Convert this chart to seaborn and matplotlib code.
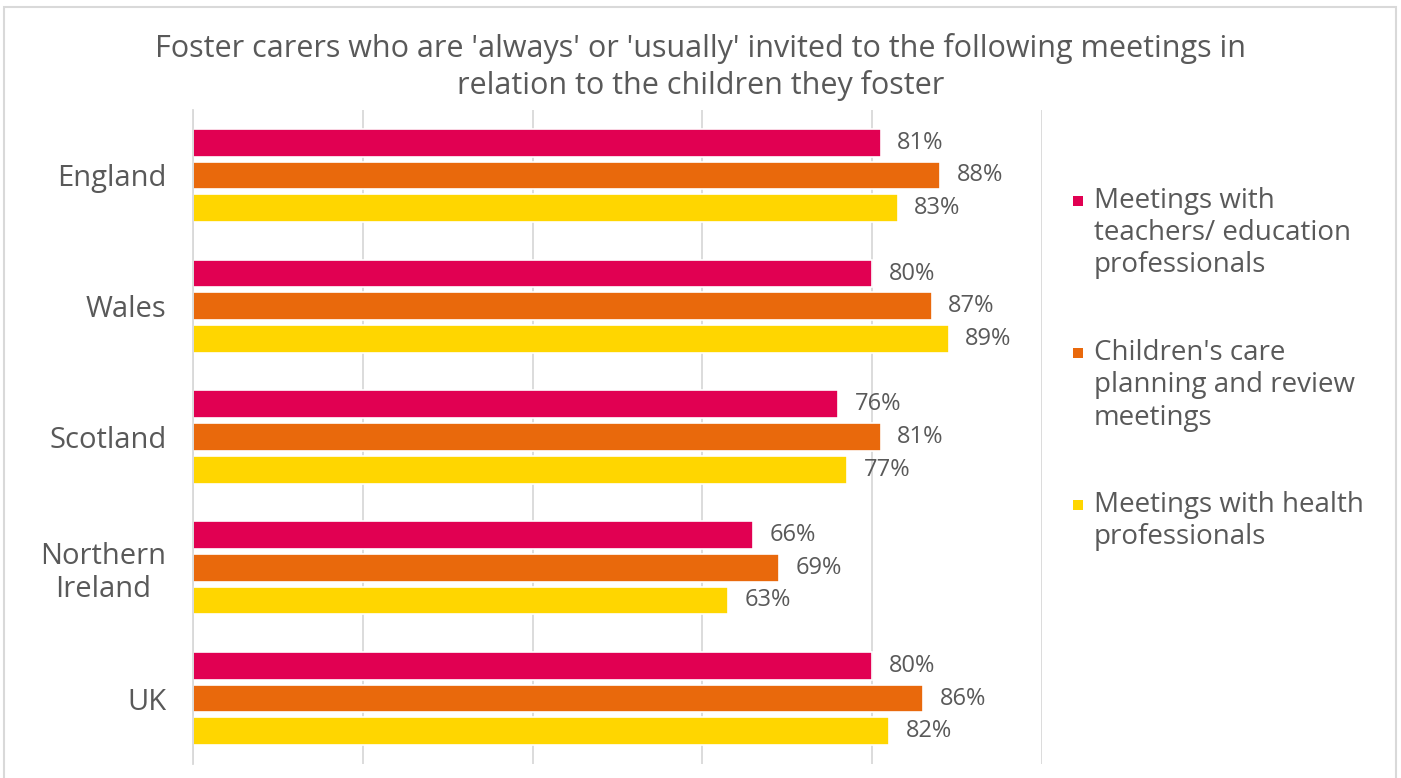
import matplotlib
matplotlib.use("Agg")
import matplotlib.pyplot as plt
from matplotlib.patches import Rectangle
from matplotlib.legend_handler import HandlerBase
import pandas as pd
import seaborn as sns

nations = ["England", "Wales", "Scotland", "Northern\nIreland", "UK"]
meetings = ["Meetings with\nteachers/ education\nprofessionals",
            "Children's care\nplanning and review\nmeetings",
            "Meetings with health\nprofessionals"]
teachers = [81, 80, 76, 66, 80]
care_planning = [88, 87, 81, 69, 86]
health = [83, 89, 77, 63, 82]
colours = ["#E10052", "#E9690C", "#FFD600"]
title = ("Foster carers who are 'always' or 'usually' invited to the following meetings in\n"
         "relation to the children they foster")

df = pd.DataFrame({
    "nation": nations * 3,
    "meeting": [m for m in meetings for _ in nations],
    "pct": teachers + care_planning + health,
})

grey = "#595959"
light = "#d9d9d9"

sns.set_style("white")
plt.rcParams["font.family"] = ["Open Sans", "DejaVu Sans"]


class TopSquare(HandlerBase):
    # square marker lined up with the first line of a multi-line label
    def create_artists(self, legend, orig_handle, xdescent, ydescent,
                       width, height, fontsize, trans):
        size = 0.36 * fontsize
        lift = (orig_handle.nlines - 1) / 2 * 1.2 * fontsize
        y = height / 2 - ydescent + lift - size / 2
        sq = Rectangle((width - size - xdescent, y), size, size,
                       facecolor=orig_handle.get_facecolor(),
                       edgecolor="none", transform=trans)
        return [sq]


fig = plt.figure(figsize=(14.01, 7.78), dpi=100)
ax = fig.add_axes([193 / 1401, 14 / 778, 849 / 1401, 654 / 778])

sns.barplot(data=df, y="nation", x="pct", hue="meeting", palette=colours,
            orient="h", width=0.75, gap=0.15, saturation=1, errorbar=None,
            edgecolor="white", linewidth=1.2, legend=False, ax=ax)

for c in ax.containers:
    ax.bar_label(c, fmt="%g%%", padding=12, color=grey, fontsize=17)

ax.set_xlim(0, 100)
ax.set_xticks(range(0, 101, 20))
ax.tick_params(axis="x", length=0, labelbottom=False)
ax.xaxis.grid(True, color=light, lw=1.3)
ax.set_axisbelow(True)
ax.set_xlabel("")
ax.set_ylabel("")
for s in ["top", "right", "bottom"]:
    ax.spines[s].set_visible(False)
ax.spines["left"].set_color(light)
ax.spines["left"].set_linewidth(1.3)

ax.set_yticks([i - 0.5 for i in range(6)], minor=True)
ax.tick_params(axis="y", which="major", length=0, pad=19, labelsize=21,
               labelcolor=grey)
ax.tick_params(axis="y", which="minor", length=5, color=light, width=1.3)
for lbl in ax.get_yticklabels():
    lbl.set_multialignment("center")
    lbl.set_linespacing(1.15)

handles = []
for col, lab in zip(colours, meetings):
    h = Rectangle((0, 0), 1, 1, facecolor=col)
    h.nlines = lab.count("\n") + 1
    handles.append(h)
leg = fig.legend(handles, meetings, handler_map={h: TopSquare() for h in handles},
                 loc="upper left", bbox_to_anchor=(1073 / 1401, 1 - 187 / 778),
                 frameon=False, fontsize=20, labelspacing=2.15, handlelength=0.36,
                 handletextpad=0.4, borderpad=0, borderaxespad=0)
for t in leg.get_texts():
    t.set_color(grey)

fig.text(0.5, 1 - 67 / 778, title, ha="center", va="center", fontsize=22,
         color=grey, linespacing=1.25)

fig.patches.append(Rectangle((4 / 1401, -0.01), 1392 / 1401, 1.01 - 7 / 778,
                             transform=fig.transFigure, fill=False,
                             edgecolor=light, lw=1.5))

fig.savefig("out.png", dpi=100)
